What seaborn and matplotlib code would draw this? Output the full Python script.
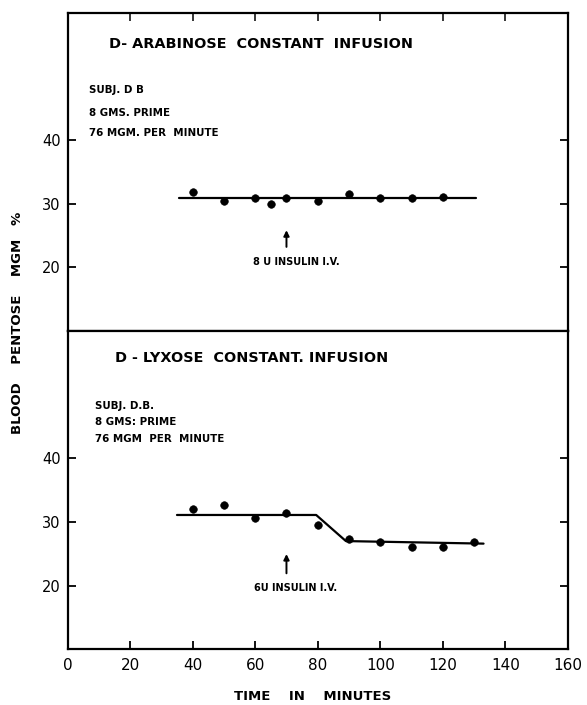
import matplotlib
matplotlib.use("Agg")
import matplotlib.pyplot as plt
import seaborn as sns
import pandas as pd

sns.set_theme(style="white")
plt.rcParams['font.family'] = ['DejaVu Sans']
plt.rcParams['text.color'] = 'black'

# ---- data ----
arab_time = [40, 50, 60, 65, 70, 80, 90, 100, 110, 120]
arab_vals = [31.8, 30.5, 30.9, 30.0, 30.9, 30.5, 31.6, 31.0, 31.0, 31.1]
arab_fit_x = [35.5, 130.5]
arab_fit_y = [31.0, 31.0]

lyx_time = [40, 50, 60, 70, 80, 90, 100, 110, 120, 130]
lyx_vals = [32.0, 32.7, 30.7, 31.4, 29.6, 27.3, 26.9, 26.0, 26.1, 26.9]
lyx_fit_x = [35, 79.5, 89, 133]
lyx_fit_y = [31.1, 31.1, 27.0, 26.6]

x_ticks = [0, 20, 40, 60, 80, 100, 120, 140, 160]
y_ticks = [20, 30, 40]
insulin_time = 70

W, H = 587, 705
fig = plt.figure(figsize=(W / 100, H / 100), dpi=100)
left = 67.5 / W
width = (568 - 67.5) / W
ax1 = fig.add_axes([left, 1 - 331 / H, width, (331 - 13.3) / H])
ax2 = fig.add_axes([left, 1 - 649.3 / H, width, (649.3 - 331) / H])

def style(ax, top):
    ax.set_xlim(0, 160)
    ax.set_ylim(10, 60)
    for s in ax.spines.values():
        s.set_visible(True)
        s.set_linewidth(1.6)
        s.set_color("black")
    ax.set_yticks(y_ticks)
    ax.set_xticks(x_ticks)
    ax.tick_params(axis="y", direction="in", length=6, width=1.3, left=True, right=True,
                   labelsize=10.5, pad=5, colors="black")
    if top:
        ax.tick_params(axis="x", direction="in", length=6, width=1.3, top=True, bottom=False,
                       labelbottom=False, labeltop=False)
    else:
        ax.tick_params(axis="x", direction="in", length=6, width=1.3, top=False, bottom=True,
                       labelsize=11, pad=6, colors="black")
    ax.set_xlabel("")
    ax.set_ylabel("")

# top panel
df1 = pd.DataFrame({"t": arab_time, "v": arab_vals})
sns.scatterplot(data=df1, x="t", y="v", ax=ax1, color="black", s=30, edgecolor="black", zorder=3)
sns.lineplot(x=arab_fit_x, y=arab_fit_y, ax=ax1, color="black", lw=1.6, sort=False, estimator=None)
ax1.annotate("", xy=(insulin_time, 26.3), xytext=(insulin_time, 22.8),
             arrowprops=dict(arrowstyle="-|>", lw=1.4, color="black", mutation_scale=8))
ax1.text(73, 20.9, "8 U INSULIN I.V.", ha="center", va="center", fontsize=7, fontweight="bold")
ax1.text(13.4, 55.1, "D- ARABINOSE  CONSTANT  INFUSION", ha="left", va="center",
         fontsize=10.4, fontweight="bold")
ax1.text(7.0, 48.0, "SUBJ. D B", ha="left", va="center", fontsize=7.4, fontweight="bold")
ax1.text(7.0, 44.25, "8 GMS. PRIME", ha="left", va="center", fontsize=7.4, fontweight="bold")
ax1.text(7.0, 41.1, "76 MGM. PER  MINUTE", ha="left", va="center", fontsize=7.4, fontweight="bold")
style(ax1, True)

# bottom panel
df2 = pd.DataFrame({"t": lyx_time, "v": lyx_vals})
sns.scatterplot(data=df2, x="t", y="v", ax=ax2, color="black", s=30, edgecolor="black", zorder=3)
sns.lineplot(x=lyx_fit_x, y=lyx_fit_y, ax=ax2, color="black", lw=1.6, sort=False, estimator=None)
ax2.annotate("", xy=(insulin_time, 25.4), xytext=(insulin_time, 21.5),
             arrowprops=dict(arrowstyle="-|>", lw=1.4, color="black", mutation_scale=8))
ax2.text(73, 19.65, "6U INSULIN I.V.", ha="center", va="center", fontsize=7, fontweight="bold")
ax2.text(15.2, 55.7, "D - LYXOSE  CONSTANT. INFUSION", ha="left", va="center",
         fontsize=10.4, fontweight="bold")
ax2.text(8.8, 48.2, "SUBJ. D.B.", ha="left", va="center", fontsize=7.4, fontweight="bold")
ax2.text(8.8, 45.7, "8 GMS: PRIME", ha="left", va="center", fontsize=7.4, fontweight="bold")
ax2.text(8.8, 43.1, "76 MGM  PER  MINUTE", ha="left", va="center", fontsize=7.4, fontweight="bold")
style(ax2, False)

fig.text(313 / W, 1 - 697 / H, "TIME    IN    MINUTES", ha="center", va="center",
         fontsize=9.5, fontweight="bold")
fig.text(18 / W, 1 - 322.7 / H, "BLOOD    PENTOSE    MGM   %", ha="center", va="center",
         rotation=90, fontsize=9.5, fontweight="bold")

fig.savefig("out.png", dpi=100, facecolor="white")
